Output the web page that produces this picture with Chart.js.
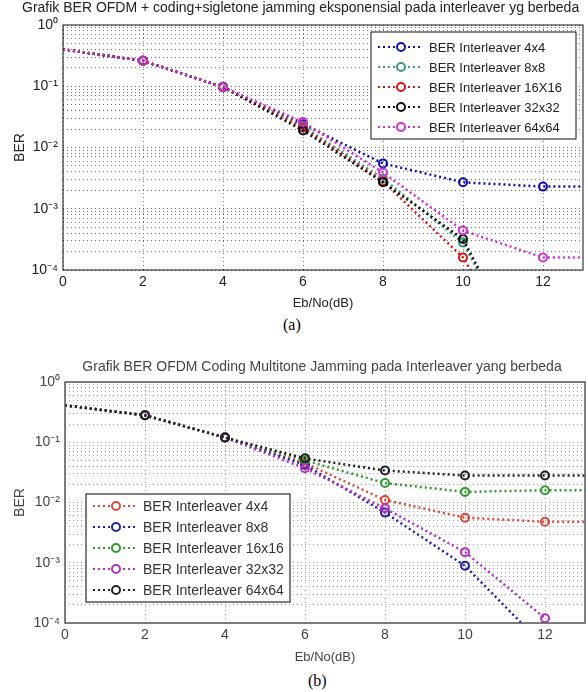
<!DOCTYPE html>
<html>
<head>
<meta charset="utf-8">
<script src="https://cdn.jsdelivr.net/npm/chart.js@4.4.0/dist/chart.umd.min.js"></script>
<style>
body { margin: 0; background: #fff; width: 588px; height: 692px; position: relative; overflow: hidden; }
canvas { position: absolute; left: 0; }
#chartA { top: 0; }
#chartB { top: 350px; }
.cap { position: absolute; font-family: 'Liberation Serif', 'Times New Roman', serif; font-size: 16px; color: #000; }
</style>
</head>
<body>
<canvas id="chartA" width="588" height="315"></canvas>
<div class="cap" style="left:283px; top:316px">(a)</div>
<canvas id="chartB" width="588" height="320"></canvas>
<div class="cap" style="left:308px; top:672px">(b)</div>
<script>
const ebno = [0, 2, 4, 6, 8, 10, 12, 14]
const xTicks = [0, 2, 4, 6, 8, 10, 12]
const yDecades = [1e-4, 1e-3, 1e-2, 1e-1, 1]
const yDecadeLabels = ['10⁻⁴', '10⁻³', '10⁻²', '10⁻¹', '10⁰']

// (a) coding + singletone jamming
const titleA = 'Grafik BER OFDM + coding+sigletone jamming eksponensial pada interleaver yg berbeda'
const labelsA = ['BER Interleaver 4x4', 'BER Interleaver 8x8', 'BER Interleaver 16X16', 'BER Interleaver 32x32', 'BER Interleaver 64x64']
const colorsA = ['#1010b0', '#3a9a78', '#d01818', '#111111', '#d030d0']
const berA_4x4 = [0.40, 0.26, 0.097, 0.024, 0.0055, 0.0027, 0.0023, 0.0023]
const berA_8x8 = [0.40, 0.26, 0.097, 0.022, 0.0031, 0.00028, 0.000001, null]
const berA_16x16 = [0.40, 0.26, 0.097, 0.021, 0.0028, 0.00016, 0.000001, null]
const berA_32x32 = [0.40, 0.26, 0.097, 0.019, 0.0027, 0.00032, 0.000001, null]
const berA_64x64 = [0.40, 0.26, 0.097, 0.026, 0.0039, 0.00044, 0.00016, 0.00016]

// (b) coding + multitone jamming
const titleB = 'Grafik BER OFDM Coding Multitone Jamming pada Interleaver yang berbeda'
const labelsB = ['BER Interleaver 4x4', 'BER Interleaver 8x8', 'BER Interleaver 16x16', 'BER Interleaver 32x32', 'BER Interleaver 64x64']
const colorsB = ['#d84a3a', '#2020a8', '#2e9a2e', '#b030c0', '#222222']
const berB_4x4 = [0.41, 0.28, 0.12, 0.045, 0.011, 0.0056, 0.0048, 0.0048]
const berB_8x8 = [0.41, 0.28, 0.12, 0.042, 0.0068, 0.00089, 0.00004, null]
const berB_16x16 = [0.41, 0.28, 0.12, 0.050, 0.021, 0.015, 0.016, 0.016]
const berB_32x32 = [0.41, 0.28, 0.12, 0.037, 0.008, 0.0015, 0.00012, null]
const berB_64x64 = [0.41, 0.28, 0.12, 0.054, 0.034, 0.028, 0.028, 0.028]

// all log grid positions (1..9 x decade)
const yGrid = []
for (let d = 0; d < yDecades.length - 1; d++) {
    for (let m = 1; m < 10; m++) yGrid.push(yDecades[d] * m)
}
yGrid.push(1)

function decadeLabel(v) {
    const i = yDecades.findIndex(d => Math.abs(v - d) < d * 1e-6)
    return i >= 0 ? yDecadeLabels[i] : ''
}

const FONT = "'Liberation Sans', Arial, sans-serif"

const framePlugin = {
    id: 'frame',
    afterDraw(chart, args, o) {
        const { ctx, chartArea: a } = chart
        ctx.save()
        // box round the axes
        ctx.strokeStyle = o.axisColor
        ctx.lineWidth = o.axisWidth
        ctx.setLineDash([])
        ctx.strokeRect(a.left, a.top, a.right - a.left, a.bottom - a.top)

        // title
        ctx.fillStyle = o.titleColor
        ctx.font = o.titleFont
        ctx.textBaseline = 'middle'
        ctx.textAlign = o.titleAlign
        const tx = o.titleAlign === 'left' ? a.left + o.titleDx : (a.left + a.right) / 2 + o.titleDx
        ctx.fillText(o.title, tx, a.top - o.titleDy)

        // legend box inside the axes
        const L = o.legend
        const x = L.corner === 'topRight' ? a.right - L.margin - L.width : a.left + L.margin
        const y = L.corner === 'topRight' ? a.top + L.margin : a.bottom - L.margin - L.height
        ctx.fillStyle = '#fff'
        ctx.fillRect(x, y, L.width, L.height)
        ctx.strokeStyle = o.axisColor
        ctx.lineWidth = o.axisWidth
        ctx.strokeRect(x, y, L.width, L.height)
        ctx.textAlign = 'left'
        chart.data.datasets.forEach((ds, i) => {
            const cy = y + L.firstRow + i * L.rowHeight
            ctx.strokeStyle = ds.borderColor
            ctx.lineWidth = 2
            ctx.setLineDash([2, 3])
            ctx.beginPath()
            ctx.moveTo(x + 7, cy)
            ctx.lineTo(x + 51, cy)
            ctx.stroke()
            ctx.setLineDash([])
            ctx.beginPath()
            ctx.arc(x + 30, cy, 4, 0, Math.PI * 2)
            ctx.fillStyle = '#fff'
            ctx.fill()
            ctx.stroke()
            ctx.fillStyle = L.color
            ctx.font = L.font
            ctx.fillText(ds.label, x + L.textX, cy + 1)
        })
        ctx.restore()
    }
}

function makeDatasets(labels, colors, series) {
    return series.map((vals, i) => ({
        label: labels[i],
        data: ebno.map((x, j) => ({ x: x, y: vals[j] })),
        borderColor: colors[i],
        backgroundColor: colors[i],
        borderWidth: 2.5,
        borderDash: [2, 3],
        pointStyle: 'circle',
        pointRadius: ctx => (ctx.raw && ctx.raw.x > 0 && ctx.raw.x <= 12) ? 4 : 0,
        pointBorderWidth: 2,
        pointBackgroundColor: 'rgba(255,255,255,0)',
        pointBorderColor: colors[i],
        tension: 0,
        fill: false,
        order: series.length - i
    }))
}

function makeChart(el, s) {
    return new Chart(el, {
        type: 'line',
        data: { datasets: makeDatasets(s.labels, s.colors, s.series) },
        plugins: [framePlugin],
        options: {
            responsive: false,
            animation: false,
            devicePixelRatio: 1,
            layout: { padding: { top: s.top, right: s.right, left: 0, bottom: 0 } },
            plugins: {
                legend: { display: false },
                tooltip: { enabled: false },
                frame: {
                    title: s.title, titleFont: s.titleFont, titleColor: s.titleColor,
                    titleAlign: s.titleAlign, titleDx: s.titleDx, titleDy: s.titleDy,
                    axisColor: s.axisColor, axisWidth: s.axisWidth,
                    legend: s.legend
                }
            },
            scales: {
                x: {
                    type: 'linear', min: 0, max: 13,
                    afterBuildTicks: sc => { sc.ticks = xTicks.map(v => ({ value: v })) },
                    afterFit: sc => { sc.height = s.xAxisH },
                    ticks: { padding: 4, color: s.tickColor, font: { family: FONT, size: 14 } },
                    grid: { color: s.gridColor, lineWidth: 1, drawTicks: false },
                    border: { display: false, dash: [1, 3] },
                    title: { display: true, text: 'Eb/No(dB)', color: s.tickColor, font: { family: FONT, size: 13 }, padding: { top: 0, bottom: s.xTitlePad } }
                },
                y: {
                    type: 'logarithmic', min: 1e-4, max: 1,
                    afterBuildTicks: sc => { sc.ticks = yGrid.map(v => ({ value: v })) },
                    afterFit: sc => { sc.width = s.yAxisW },
                    ticks: { autoSkip: false, padding: 5, color: s.tickColor, font: { family: FONT, size: 14 }, callback: v => decadeLabel(v) },
                    grid: { color: s.gridColor, lineWidth: 1, drawTicks: false },
                    border: { display: false, dash: [1, 3] },
                    title: { display: true, text: 'BER', color: s.tickColor, font: { family: FONT, size: 14 }, padding: { top: 12, bottom: 0 } }
                }
            }
        }
    })
}

makeChart(document.getElementById('chartA'), {
    labels: labelsA, colors: colorsA,
    series: [berA_4x4, berA_8x8, berA_16x16, berA_32x32, berA_64x64],
    top: 25, right: 5, xAxisH: 45, yAxisW: 63, xTitlePad: 4,
    title: titleA, titleFont: '14px ' + FONT, titleColor: '#222', titleAlign: 'left', titleDx: -41, titleDy: 17,
    axisColor: '#111', axisWidth: 1, gridColor: '#6e6e6e', tickColor: '#222',
    legend: { corner: 'topRight', margin: 7, width: 205, height: 107, firstRow: 15, rowHeight: 20, textX: 58, font: '13px ' + FONT, color: '#222' }
})

makeChart(document.getElementById('chartB'), {
    labels: labelsB, colors: colorsB,
    series: [berB_4x4, berB_8x8, berB_16x16, berB_32x32, berB_64x64],
    top: 32, right: 3, xAxisH: 47, yAxisW: 65, xTitlePad: 5,
    title: titleB, titleFont: '14px ' + FONT, titleColor: '#444', titleAlign: 'center', titleDx: -3, titleDy: 15,
    axisColor: '#555', axisWidth: 1.5, gridColor: '#a0a0a0', tickColor: '#444',
    legend: { corner: 'bottomLeft', margin: 21, width: 204, height: 108, firstRow: 12, rowHeight: 21, textX: 57, font: '14px ' + FONT, color: '#333' }
})
</script>
</body>
</html>
